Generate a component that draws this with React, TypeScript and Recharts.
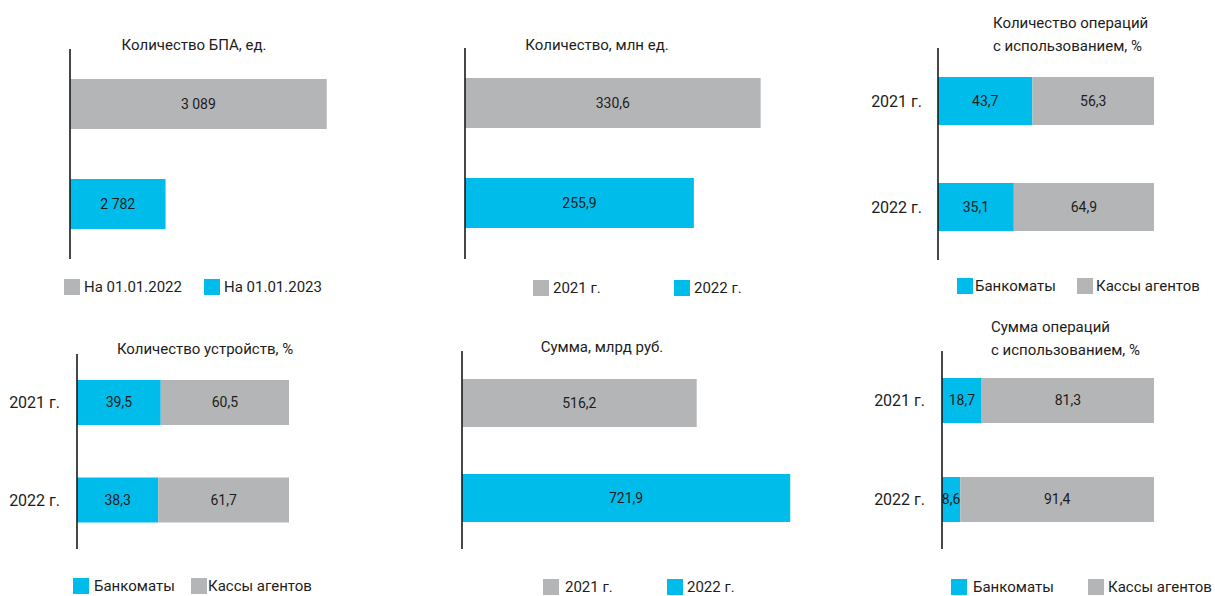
import React from 'react';
import { BarChart, Bar, XAxis, YAxis, LabelList, Cell } from 'recharts';

const CYAN = '#00BCEB';
const GRAY = '#B4B5B7';
const TEXT = '#1d1d1b';
const FONT = 'Roboto, "Noto Sans", sans-serif';

// ---- data ----
const bpaCategories = ['На 01.01.2022', 'На 01.01.2023'];
const bpaValues = [3089, 2782];
const yearCategories = ['2021 г.', '2022 г.'];
const opsCountValues = [330.6, 255.9];
const opsSumValues = [516.2, 721.9];
const shareSeries = ['Банкоматы', 'Кассы агентов'];
const devicesAtm = [39.5, 38.3];
const devicesAgent = [60.5, 61.7];
const opsCountAtm = [43.7, 35.1];
const opsCountAgent = [56.3, 64.9];
const opsSumAtm = [18.7, 8.6];
const opsSumAgent = [81.3, 91.4];

const titles = {
  bpa: 'Количество БПА, ед.',
  count: 'Количество, млн ед.',
  countShare: ['Количество операций', 'с использованием, %'],
  devices: 'Количество устройств, %',
  sum: 'Сумма, млрд руб.',
  sumShare: ['Сумма операций', 'с использованием, %'],
};

const fmtDec = (v: any) => Number(v).toFixed(1).replace('.', ',');
const fmtInt = (v: any) => String(v).replace(/\B(?=(\d{3})+(?!\d))/g, ' ');

type Plot = { l: number; t: number; r: number; b: number };

const AXIS_LINE = { stroke: '#1a1a1a', strokeWidth: 1.6 };

function SingleChart(props: {
  x: number; y: number; w: number; h: number; plot: Plot;
  cats: string[]; values: number[]; colors: string[]; domain: [number, number];
  pad: { top: number; bottom: number }; barSize: number; fmt: (v: any) => string;
}) {
  const { x, y, w, h, plot, cats, values, colors, domain, pad, barSize, fmt } = props;
  const data = cats.map((c, i) => ({ name: c, value: values[i] }));
  const yw = 10;
  const margin = { left: plot.l - x - yw, top: plot.t - y, right: x + w - plot.r, bottom: y + h - plot.b };
  return (
    <div style={{ position: 'absolute', left: x, top: y }}>
      <BarChart width={w} height={h} data={data} layout="vertical" margin={margin} barCategoryGap={0}>
        <XAxis type="number" domain={domain} hide allowDataOverflow />
        <YAxis type="category" dataKey="name" width={yw} tick={false} tickLine={false}
          axisLine={AXIS_LINE} padding={pad} />
        <Bar dataKey="value" barSize={barSize} isAnimationActive={false}>
          {data.map((d, i) => <Cell key={i} fill={colors[i]} />)}
          <LabelList dataKey="value" position="center" formatter={fmt}
            style={{ fill: TEXT, fontSize: 14, fontFamily: FONT }} />
        </Bar>
      </BarChart>
    </div>
  );
}

function StackChart(props: {
  x: number; y: number; w: number; h: number; plot: Plot; yw: number; tm: number;
  atm: number[]; agent: number[]; barSize: number;
}) {
  const { x, y, w, h, plot, yw, tm, atm, agent, barSize } = props;
  const data = yearCategories.map((c, i) => ({ name: c, atm: atm[i], agent: agent[i] }));
  const margin = { left: plot.l - x - yw, top: plot.t - y, right: x + w - plot.r, bottom: y + h - plot.b };
  return (
    <div style={{ position: 'absolute', left: x, top: y }}>
      <BarChart width={w} height={h} data={data} layout="vertical" margin={margin} barCategoryGap={0}>
        <XAxis type="number" domain={[0, 100]} hide />
        <YAxis type="category" dataKey="name" width={yw} tickLine={false} tickMargin={tm}
          axisLine={AXIS_LINE}
          tick={{ fill: TEXT, fontSize: 16, fontFamily: FONT }} />
        <Bar dataKey="atm" stackId="s" fill={CYAN} barSize={barSize} isAnimationActive={false}>
          <LabelList dataKey="atm" position="center" formatter={fmtDec}
            style={{ fill: TEXT, fontSize: 14, fontFamily: FONT }} />
        </Bar>
        <Bar dataKey="agent" stackId="s" fill={GRAY} barSize={barSize} isAnimationActive={false}>
          <LabelList dataKey="agent" position="center" formatter={fmtDec}
            style={{ fill: TEXT, fontSize: 14, fontFamily: FONT }} />
        </Bar>
      </BarChart>
    </div>
  );
}

function Title({ cx, left, top, lines }: { cx?: number; left?: number; top: number; lines: string[] }) {
  const style: React.CSSProperties = {
    position: 'absolute', top, fontSize: 15, lineHeight: '23px', color: TEXT, fontFamily: FONT, whiteSpace: 'nowrap',
  };
  if (cx !== undefined) {
    style.left = cx - 150; style.width = 300; style.textAlign = 'center';
  } else {
    style.left = left;
  }
  return <div style={style}>{lines.map((l, i) => <div key={i}>{l}</div>)}</div>;
}

function LegendItem({ sx, tx, cy, color, label }: { sx: number; tx: number; cy: number; color: string; label: string }) {
  return (
    <>
      <div style={{ position: 'absolute', left: sx, top: cy - 8, width: 16, height: 16, background: color }} />
      <div style={{ position: 'absolute', left: tx, top: cy - 10, lineHeight: '20px', fontSize: 15, color: TEXT, fontFamily: FONT, whiteSpace: 'nowrap' }}>{label}</div>
    </>
  );
}

export default function App() {
  return (
    <div style={{ position: 'absolute', left: 0, top: 0, width: 1215, height: 596, background: '#fff', overflow: 'hidden', fontFamily: FONT }}>
      {/* Panel 1 */}
      <Title cx={194} top={34} lines={[titles.bpa]} />
      <SingleChart x={0} y={0} w={400} h={300} plot={{ l: 70, t: 49, r: 385, b: 259 }}
        cats={bpaCategories} values={bpaValues} colors={[GRAY, CYAN]} domain={[2600, 3200]}
        pad={{ top: 5, bottom: 5 }} barSize={50} fmt={fmtInt} />
      <LegendItem sx={64} tx={84} cy={287} color={GRAY} label={bpaCategories[0]} />
      <LegendItem sx={204} tx={224} cy={287} color={CYAN} label={bpaCategories[1]} />

      {/* Panel 2 */}
      <Title cx={597} top={34} lines={[titles.count]} />
      <SingleChart x={400} y={0} w={420} h={300} plot={{ l: 465, t: 48, r: 778, b: 259 }}
        cats={yearCategories} values={opsCountValues} colors={[GRAY, CYAN]} domain={[0, 350]}
        pad={{ top: 5, bottom: 6 }} barSize={50} fmt={fmtDec} />
      <LegendItem sx={533} tx={553} cy={288} color={GRAY} label={yearCategories[0]} />
      <LegendItem sx={674} tx={694} cy={288} color={CYAN} label={yearCategories[1]} />

      {/* Panel 3 */}
      <Title left={993} top={12} lines={titles.countShare} />
      <StackChart x={820} y={0} w={395} h={300} plot={{ l: 938, t: 48, r: 1154, b: 260 }} yw={110} tm={10}
        atm={opsCountAtm} agent={opsCountAgent} barSize={48} />
      <LegendItem sx={957} tx={975} cy={286} color={CYAN} label={shareSeries[0]} />
      <LegendItem sx={1077} tx={1096} cy={286} color={GRAY} label={shareSeries[1]} />

      {/* Panel 4 */}
      <Title cx={205} top={338} lines={[titles.devices]} />
      <StackChart x={0} y={300} w={400} h={296} plot={{ l: 77, t: 354, r: 289, b: 549 }} yw={70} tm={11}
        atm={devicesAtm} agent={devicesAgent} barSize={45} />
      <LegendItem sx={73} tx={94} cy={586} color={CYAN} label={shareSeries[0]} />
      <LegendItem sx={191} tx={208} cy={586} color={GRAY} label={shareSeries[1]} />

      {/* Panel 5 */}
      <Title cx={602} top={336} lines={[titles.sum]} />
      <SingleChart x={400} y={300} w={420} h={296} plot={{ l: 462, t: 351, r: 803, b: 549 }}
        cats={yearCategories} values={opsSumValues} colors={[GRAY, CYAN]} domain={[0, 750]}
        pad={{ top: 4, bottom: 4 }} barSize={48} fmt={fmtDec} />
      <LegendItem sx={543} tx={565} cy={587} color={GRAY} label={yearCategories[0]} />
      <LegendItem sx={667} tx={687} cy={587} color={CYAN} label={yearCategories[1]} />

      {/* Panel 6 */}
      <Title left={991} top={316} lines={titles.sumShare} />
      <StackChart x={820} y={300} w={395} h={296} plot={{ l: 942, t: 351, r: 1154, b: 549 }} yw={110} tm={11}
        atm={opsSumAtm} agent={opsSumAgent} barSize={45} />
      <LegendItem sx={951} tx={973} cy={587} color={CYAN} label={shareSeries[0]} />
      <LegendItem sx={1088} tx={1108} cy={587} color={GRAY} label={shareSeries[1]} />
    </div>
  );
}
